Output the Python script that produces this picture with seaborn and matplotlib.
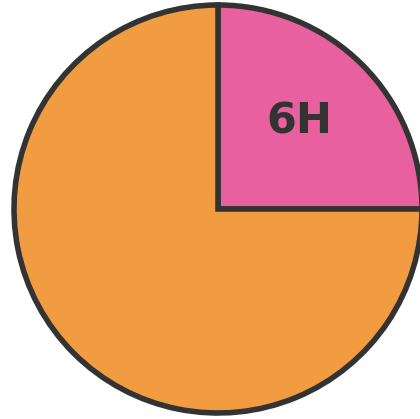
import matplotlib
matplotlib.use("Agg")
import matplotlib.pyplot as plt
import seaborn as sns

# hours of the day: 6 h highlighted, the rest of the 24 h
hours = [6, 18]
slice_labels = ["6H", ""]
slice_colors = ["#E9609F", "#F29C42"]

sns.set_theme(style="white")

fig = plt.figure(figsize=(4.2, 4.19), dpi=100)
ax = fig.add_axes([0, 0, 1, 1])

# pixel geometry of the reference
cx, cy, r_px = 218, 209, 204
s = r_px  # pixels per data unit (pie radius = 1)

wedges, _ = ax.pie(hours, colors=slice_colors, startangle=90, counterclock=False,
                   radius=1, wedgeprops=dict(edgecolor="#333333", linewidth=4,
                                             joinstyle="miter"))
ax.text(0.40, 0.43, slice_labels[0], ha="center", va="center", fontsize=31,
        fontweight="bold", color="#333333", family=["DejaVu Sans"])

ax.set_xlim(-cx / s, (420 - cx) / s)
ax.set_ylim(-(419 - cy) / s, cy / s)
ax.set_aspect("equal")
ax.axis("off")

fig.savefig("out.png", dpi=100, facecolor="white")
